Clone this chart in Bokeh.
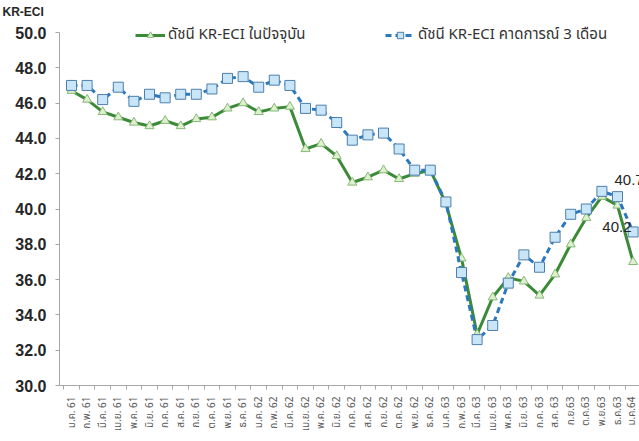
import math
from bokeh.plotting import figure
from bokeh.models import FixedTicker, PrintfTickFormatter, Legend, LegendItem
from bokeh.core.properties import value
from bokeh.embed import file_html
from bokeh.resources import INLINE

months = ["ม.ค. 61", "ก.พ. 61", "มี.ค. 61", "เม.ย. 61", "พ.ค. 61", "มิ.ย. 61",
          "ก.ค. 61", "ส.ค. 61", "ก.ย. 61", "ต.ค. 61", "พ.ย. 61", "ธ.ค. 61",
          "ม.ค. 62", "ก.พ. 62", "มี.ค. 62", "เม.ย. 62", "พ.ค. 62", "มิ.ย. 62",
          "ก.ค. 62", "ส.ค. 62", "ก.ย. 62", "ต.ค. 62", "พ.ย. 62", "ธ.ค. 62",
          "ม.ค. 63", "ก.พ. 63", "มี.ค. 63", "เม.ย. 63", "พ.ค. 63", "มิ.ย. 63",
          "ก.ค. 63", "ส.ค. 63", "ก.ย.63", "ต.ค.63", "พ.ย.63", "ธ.ค.63", "ม.ค.64"]

current_index = [46.7, 46.2, 45.5, 45.2, 44.9, 44.7, 45.0, 44.7, 45.1, 45.2, 45.7, 46.0,
                 45.5, 45.7, 45.8, 43.4, 43.7, 43.0, 41.5, 41.8, 42.2, 41.7, 42.0, 42.2,
                 40.3, 37.2, 32.9, 35.0, 36.1, 35.9, 35.1, 36.3, 38.0, 39.5, 40.7, 40.2, 37.0]

expect_3m = [47.0, 47.0, 46.2, 46.9, 46.1, 46.5, 46.3, 46.5, 46.5, 46.8, 47.4, 47.5,
             46.9, 47.3, 47.0, 45.7, 45.6, 44.9, 43.9, 44.2, 44.3, 43.4, 42.2, 42.2,
             40.4, 36.4, 32.6, 33.4, 35.8, 37.4, 36.7, 38.4, 39.7, 40.0, 41.0, 40.7, 38.7]

y_ticks = [30.0, 32.0, 34.0, 36.0, 38.0, 40.0, 42.0, 44.0, 46.0, 48.0, 50.0]

series_names = ["ดัชนี KR-ECI ในปัจจุบัน", "ดัชนี KR-ECI คาดการณ์ 3 เดือน"]
label_index = 35

x = list(range(len(months)))

FONT = "Liberation Sans"
THAI = "Noto Sans Thai, Noto Sans Thai UI, Loma, Garuda, Noto Sans, sans-serif"

# frame spans 20..385 px; 30.0 at 385 and 50.0 at 32 -> 17.65 px per unit
y_top = y_ticks[-1] + 12 / 17.65

p = figure(width=639, height=441, output_backend="svg", toolbar_location=None,
           x_range=(-0.77, 36.41), y_range=(y_ticks[0], y_top),
           min_border_left=59, min_border_top=20, min_border_bottom=56, min_border_right=0)
p.outline_line_color = None
p.grid.grid_line_color = None

# axis title (top-left)
p.title.text = "KR-ECI"
p.title.align = "left"
p.title.offset = -57
p.title.text_font = FONT
p.title.text_font_style = "bold"
p.title.text_font_size = "12px"
p.title.text_color = "#262626"
p.title.standoff = 3

green_line = p.line(x, current_index, line_color="#3b8a37", line_width=3)
green_pts = p.scatter(x, current_index, marker="triangle", size=9,
                      fill_color="#dff0cf", line_color="#86b877", line_width=1)
blue_line = p.line(x, expect_3m, line_color="#2a78c0", line_width=3, line_dash="6 4")
blue_pts = p.scatter(x, expect_3m, marker="square", size=10,
                     fill_color="#c8e6f7", line_color="#4d7fae", line_width=1)

# x axis
p.xaxis.ticker = FixedTicker(ticks=x, minor_ticks=[i - 0.5 for i in range(len(months) + 1)])
p.xaxis.major_label_overrides = {i: m for i, m in enumerate(months)}
p.xaxis.major_label_orientation = math.pi / 2
p.xaxis.major_tick_line_color = None
p.xaxis.minor_tick_in = 0
p.xaxis.minor_tick_out = 4
p.xaxis.minor_tick_line_color = "#a6a6a6"
p.xaxis.axis_line_color = "#a6a6a6"
p.xaxis.major_label_text_font_size = "10px"
p.xaxis.major_label_text_color = "#595959"
p.xaxis.major_label_text_font = THAI
p.xaxis.major_label_standoff = 5

# y axis
p.yaxis.ticker = FixedTicker(ticks=y_ticks)
p.yaxis.bounds = (y_ticks[0], y_ticks[-1])
p.yaxis.formatter = PrintfTickFormatter(format="%.1f")
p.yaxis.major_label_text_font = FONT
p.yaxis.major_label_text_font_style = "bold"
p.yaxis.major_label_text_font_size = "16px"
p.yaxis.major_label_text_color = "#262626"
p.yaxis.major_tick_in = 0
p.yaxis.major_tick_out = 4
p.yaxis.major_tick_line_color = "#a6a6a6"
p.yaxis.minor_tick_line_color = None
p.yaxis.axis_line_color = "#a6a6a6"
p.yaxis.major_label_standoff = 9

# legends
for rends, name, loc in [([green_line, green_pts], series_names[0], (76, 339)),
                         ([blue_line, blue_pts], series_names[1], (326, 339))]:
    leg = Legend(items=[LegendItem(label=name, renderers=rends)], location=loc,
                 orientation="horizontal", border_line_color=None, background_fill_alpha=0,
                 padding=0, margin=0, glyph_width=30, glyph_height=16, label_height=16,
                 label_text_font_size="15px", label_text_font=THAI,
                 label_text_color="#333333", label_standoff=3)
    p.add_layout(leg)

# data labels
p.text(x=[x[label_index]], y=[current_index[label_index]],
       text=[f"{current_index[label_index]:.1f}"], text_align="right", text_baseline="middle",
       x_offset=14, y_offset=22, text_font=value(FONT), text_font_size="15px", text_color="#262626")
p.text(x=[x[label_index]], y=[expect_3m[label_index]],
       text=[f"{expect_3m[label_index]:.1f}"], text_align="left", text_baseline="middle",
       x_offset=-3, y_offset=-17, text_font=value(FONT), text_font_size="15px", text_color="#262626")

open("out.html", "w").write(file_html(p, INLINE))
